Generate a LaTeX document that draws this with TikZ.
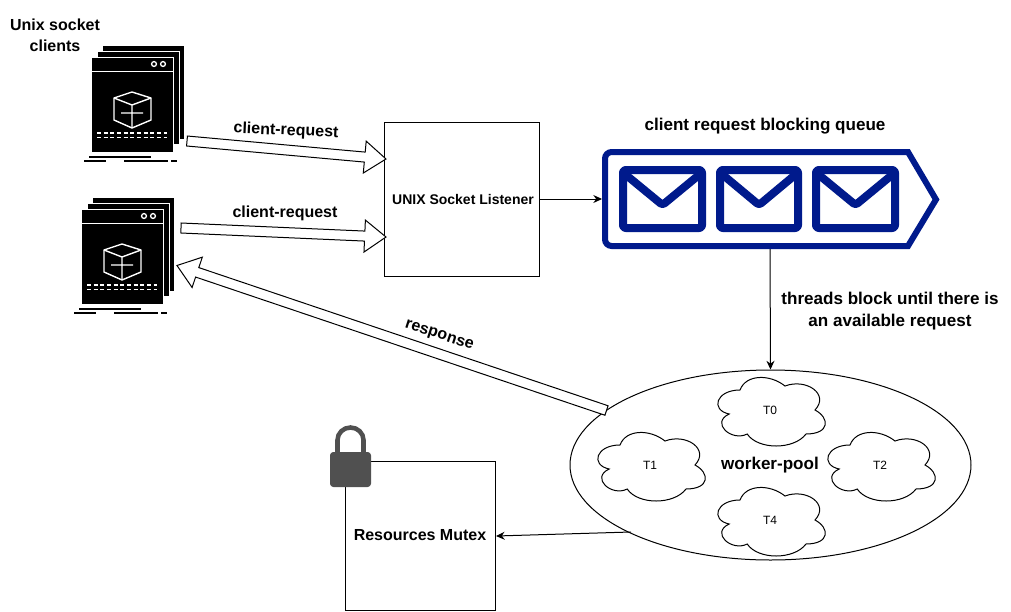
\documentclass[tikz,border=0pt]{standalone}
\usepackage{fontspec}
\setmainfont{Liberation Sans}
\usetikzlibrary{calc,arrows.meta,shapes.geometric}
\definecolor{qblue}{RGB}{0,26,140}
\definecolor{lockgray}{RGB}{80,80,80}
\tikzset{
  boxnode/.style={draw=black,line width=0.75pt,fill=white,inner sep=0pt,align=center},
  lab/.style={font=\bfseries\fontsize{12}{15.5}\selectfont,align=center,inner sep=0pt},
  biglab/.style={lab,font=\bfseries\fontsize{12.8}{16}\selectfont},
  small/.style={font=\fontsize{9}{11}\selectfont,inner sep=0pt},
  conn/.style={draw=black,line width=0.75pt,-{Stealth[length=6.5pt,width=6pt]}},
  blk/.style={draw=black,line width=0.75pt,fill=white,line join=miter},
  panel/.style={fill=black,draw=white,line width=1pt},
  wline/.style={draw=white,line width=1.05pt},
  bline/.style={draw=black,line width=1.5pt},
  qline/.style={draw=qblue,line width=4.5pt,line join=miter},
  envline/.style={draw=qblue,line width=6pt,line join=round,rounded corners=2pt},
  cloudline/.style={draw=black,line width=0.75pt,fill=white}
}
\newcommand\blockarrow[2]{%
  \coordinate (hb) at ($(#2)!16pt!(#1)$);
  \draw[blk] ($(#1)!3.75pt!90:(#2)$) -- ($(hb)!3.75pt!90:(#2)$) -- ($(hb)!12pt!90:(#2)$) -- (#2)
    -- ($(hb)!12pt!-90:(#2)$) -- ($(hb)!3.75pt!-90:(#2)$) -- ($(#1)!3.75pt!-90:(#2)$) -- cycle;
}
\newcommand\clientsicon[2]{%
  \begin{scope}[shift={(#1,#2)}]
    \draw[panel] (102.5,45.5) rectangle (184.5,139.5);
    \draw[panel] (97,51.5) rectangle (179.5,145);
    \draw[panel] (91.3,57.5) rectangle (173.7,152.7);
    \draw[wline,line width=1pt] (92,71.5) -- (173,71.5);
    \draw[wline,line width=1pt] (154,64) circle (2.4);
    \draw[wline,line width=1pt] (163,64) circle (2.4);
    \draw[wline,line join=round] (132,92) -- (151,98) -- (151,120) -- (132,128) -- (114,120) -- (114,98) -- cycle;
    \draw[wline,line join=round] (114,98) -- (132,105) -- (151,98) (132,105) -- (132,128) (121,113) -- (143,113);
    \draw[wline,dash pattern=on 3pt off 2pt] (97,133) -- (167,133);
    \draw[wline,dash pattern=on 3pt off 2pt] (97,137.5) -- (167,137.5);
    \draw[bline] (89,157) -- (151,157);
    \draw[bline] (84,160.5) -- (106,160.5) (124,160.5) -- (168,160.5) (171,160.5) -- (177,160.5);
  \end{scope}
}
\newcommand\envelope[2]{% left x, right x
  \draw[envline] (#1,170) rectangle (#2,228);
  \draw[envline] (#1,172.5) -- ({(#1+#2)/2},205) -- (#2,172.5);
}
\newcommand\cloudnode[4]{% name, x0, y0, text
  \begin{scope}[shift={(#2,#3)},x=0.75pt,y=-0.6pt]
    \draw[cloudline] (30,25) .. controls (6,25) and (0,50) .. (19.2,55)
      .. controls (0,66) and (21.6,90) .. (37.2,80)
      .. controls (48,100) and (84,100) .. (96,80)
      .. controls (120,80) and (120,60) .. (105,50)
      .. controls (120,30) and (96,10) .. (75,20)
      .. controls (60,5) and (36,5) .. (30,25) -- cycle;
    \node[small] (#1) at (60,50) {#4};
  \end{scope}
}
\begin{document}
\begin{tikzpicture}[x=0.75pt,y=-0.75pt]
\useasboundingbox (0,0) rectangle (1011,611);
\fill[white] (0,0) rectangle (1011,611);

\clientsicon{0}{0}
\clientsicon{-10}{152}
\node[lab] (clientslabel) at (55,35.5) {Unix socket\\clients};

\node[boxnode,minimum width=116.25pt,minimum height=115.5pt] (listener) at (462,199) {};
\node[lab,font=\bfseries\fontsize{10.5}{13}\selectfont] (listenerlabel) at (463,199.5) {UNIX Socket Listener};

% queue
\draw[qline] (908,152) -- (936,199.5) -- (908,246) [rounded corners=5pt] -- (605,246) -- (605,152) [sharp corners] -- (908,152) -- cycle;
\envelope{623}{702}
\envelope{720}{798}
\envelope{816}{895}
\coordinate (qleft) at (602,199);
\coordinate (qbottom) at (770,249);
\node[biglab] (qlabel) at (765,126) {client request blocking queue};

% worker pool
\node[boxnode,ellipse,minimum width=300.75pt,minimum height=142.5pt] (pool) at (770.5,465) {};
\cloudnode{t0}{710}{370}{T0}
\cloudnode{t1}{590}{425}{T1}
\cloudnode{t2}{820}{425}{T2}
\cloudnode{t4}{710}{480}{T4}
\node[lab,font=\bfseries\fontsize{12.8}{15}\selectfont] (poollabel) at (770,465) {worker-pool};

% mutex
\node[boxnode,minimum width=112.5pt,minimum height=111.75pt] (mutex) at (420.5,535.5) {};
\node[lab] (mutexlabel) at (420,535) {Resources Mutex};
\draw[lockgray,line width=3.4pt] (337.5,454) -- (337.5,440) arc[start angle=180,end angle=0,x radius=13,y radius=-12.5] -- (363.5,454);
\fill[lockgray,rounded corners=2.5pt] (330,452) rectangle (371,487);

% connectors
\draw[conn] (listener.east) -- (qleft);
\draw[conn] (qbottom) -- (pool.north);
\coordinate (poolexit) at (631,532);
\draw[conn] (poolexit) -- (mutex.east |- 0,536);
\node[biglab] (threadslabel) at (890,311) {threads block until there is\\an available request};

% block arrows
\coordinate (a1s) at (187,141);
\coordinate (a1e) at (386,159);
\coordinate (a2s) at (181,228);
\coordinate (a2e) at (386,237);
\coordinate (a3s) at (606.5,410.5);
\coordinate (a3e) at (177,265.5);
\blockarrow{a1s}{a1e}
\blockarrow{a2s}{a2e}
\blockarrow{a3s}{a3e}
\node[lab,rotate=-2.5] (r1) at (286,131) {client-request};
\node[lab] (r2) at (285,213) {client-request};
\node[lab,rotate=-18] (r3) at (439,336) {response};
\end{tikzpicture}
\end{document}
